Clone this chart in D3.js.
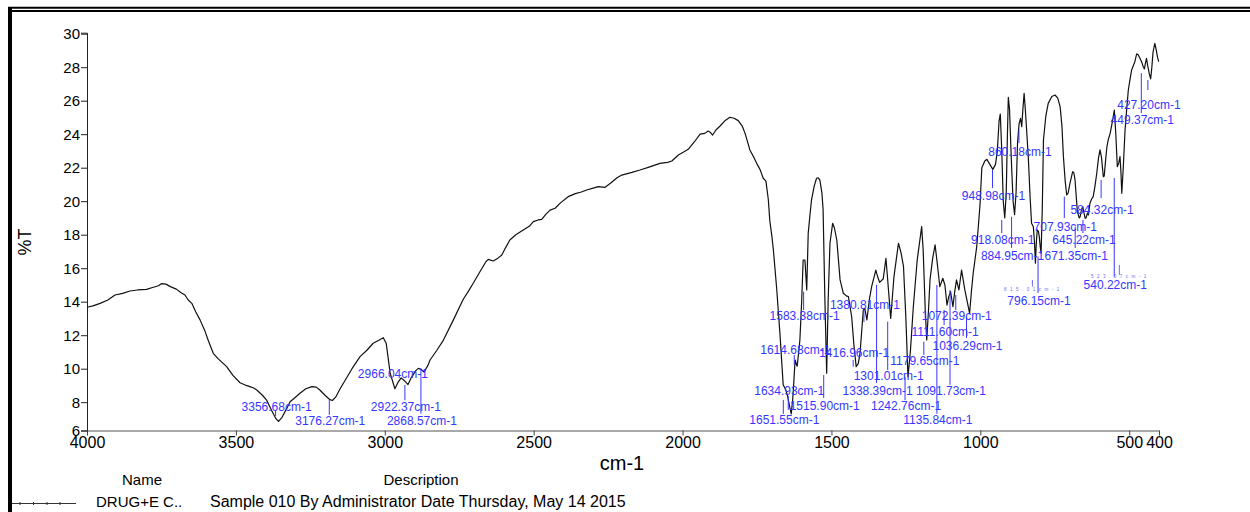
<!DOCTYPE html>
<html>
<head>
<meta charset="utf-8">
<script src="https://cdn.jsdelivr.net/npm/d3@7"></script>
<style>
  body { margin: 0; background: #fff; }
  svg { display: block; font-family: Arial, "Liberation Sans", sans-serif; }
  .peak { fill: #3636ff; font-size: 12px; }
  .faint { fill: #6a6aff; font-size: 4.5px; letter-spacing: 3.5px; }
</style>
</head>
<body>
<div id="dataviz"></div>
<script>
// spectrum: [wavenumber cm-1, %T]
var spectrum = [
  [4000,13.67],[3980,13.75],[3956,13.9],[3930,14.1],[3906,14.4],[3880,14.5],[3856,14.64],[3830,14.7],
  [3800,14.74],[3780,14.85],[3760,14.95],[3749,15.08],[3735,15.05],[3720,14.9],[3700,14.75],[3685,14.55],
  [3671,14.4],[3660,14.1],[3648,13.9],[3635,13.4],[3620,12.9],[3605,12.3],[3593,11.7],[3576,10.92],
  [3560,10.6],[3531,10.12],[3510,9.6],[3486,9.16],[3465,9.0],[3453,8.93],[3440,8.85],[3430,8.73],
  [3410,8.4],[3397,8.13],[3380,7.5],[3365,7.0],[3357,6.85],[3345,7.1],[3330,7.6],[3318,8.03],
  [3300,8.3],[3285,8.53],[3265,8.8],[3245,8.93],[3230,8.9],[3218,8.73],[3200,8.4],[3184,8.15],
  [3176,8.1],[3165,8.3],[3150,8.8],[3139,9.13],[3110,10.0],[3083,10.72],[3060,11.1],[3039,11.52],
  [3020,11.7],[3005,11.85],[2995,11.5],[2982,9.73],[2966,8.8],[2955,9.2],[2945,9.45],[2935,9.3],
  [2922,9.05],[2910,9.5],[2895,9.9],[2887,10.02],[2878,9.95],[2868,9.8],[2855,10.2],[2848,10.52],
  [2825,11.1],[2803,11.71],[2770,12.9],[2736,14.16],[2720,14.6],[2703,15.1],[2680,15.8],[2660,16.4],
  [2652,16.53],[2636,16.43],[2620,16.6],[2607,16.79],[2595,17.2],[2580,17.68],[2560,18.0],[2535,18.28],
  [2515,18.5],[2501,18.78],[2485,18.88],[2473,18.92],[2460,19.2],[2445,19.47],[2428,19.58],[2410,19.9],
  [2384,20.27],[2360,20.45],[2340,20.55],[2322,20.67],[2300,20.78],[2283,20.87],[2260,20.83],[2240,21.1],
  [2220,21.4],[2204,21.56],[2170,21.72],[2143,21.86],[2110,22.05],[2076,22.26],[2050,22.32],[2036,22.4],
  [2014,22.76],[1995,22.95],[1981,23.1],[1960,23.55],[1941,24.01],[1925,24.05],[1914,24.19],[1906,24.1],
  [1899,23.95],[1888,24.25],[1874,24.49],[1858,24.8],[1841,25.01],[1827,24.95],[1813,24.81],[1800,24.5],
  [1790,24.05],[1774,23.06],[1760,22.6],[1751,22.26],[1740,21.9],[1729,21.37],[1720,21.2],[1712,20.1],
  [1707,18.84],[1700,17.9],[1695,17.09],[1684,14.8],[1673,12.11],[1662,9.03],[1656,8.83],[1651,8.6],
  [1647,8.33],[1640,7.7],[1635,7.3],[1630,8.2],[1628,8.73],[1622,10.52],[1617,10.22],[1615,10.15],
  [1610,11.0],[1606,11.71],[1600,14.0],[1595,16.49],[1589,16.49],[1583,14.7],[1578,18.08],[1572,19.2],
  [1567,20.07],[1558,20.9],[1550,21.37],[1545,21.4],[1539,21.27],[1532,20.5],[1528,19.47],[1522,14.1],
  [1516,9.73],[1511,14.1],[1505,17.49],[1496,18.68],[1490,18.4],[1482,17.68],[1471,15.3],[1460,14.5],
  [1450,14.35],[1443,14.3],[1432,13.1],[1425,11.5],[1417,10.12],[1410,10.3],[1404,10.92],[1393,13.5],
  [1388,13.6],[1381,12.91],[1372,14.2],[1365,14.9],[1351,15.89],[1345,15.5],[1338,15.15],[1326,15.37],
  [1317,16.59],[1312,15.5],[1301,13.0],[1290,15.5],[1275,17.49],[1266,16.9],[1258,16.09],[1250,13.0],
  [1243,9.52],[1235,11.0],[1225,13.7],[1212,16.49],[1197,18.48],[1192,17.09],[1185,13.5],[1180,11.71],
  [1174,13.5],[1169,15.3],[1160,16.6],[1152,17.39],[1146,16.5],[1141,15.7],[1136,14.9],[1130,15.2],
  [1126,15.4],[1119,15.0],[1112,13.8],[1106,14.3],[1100,14.6],[1092,13.7],[1086,14.6],[1080,15.3],
  [1072,14.7],[1063,15.89],[1052,14.7],[1045,14.1],[1036,13.3],[1030,14.6],[1024,15.7],[1012,17.3],
  [1001,19.8],[995,22.0],[985,22.4],[978,22.5],[968,22.2],[958,21.9],[949,22.2],[943,23.0],
  [937,24.8],[933,25.2],[928,23.0],[923,20.0],[918,19.0],[913,20.5],[909,24.0],[906,26.2],
  [902,25.5],[896,22.5],[890,20.0],[885,19.2],[880,20.5],[875,23.5],[870,24.6],[865,24.95],
  [861,24.45],[857,25.5],[853,26.44],[849,25.5],[843,23.8],[839,22.66],[833,20.3],[828,18.68],
  [822,18.48],[818,17.5],[815,16.3],[812,17.5],[809,18.28],[805,18.2],[802,17.88],[799,17.3],
  [796,16.89],[792,19.5],[788,23.65],[780,25.1],[772,25.84],[760,26.25],[749,26.34],[740,26.15],
  [732,25.64],[726,24.5],[721,22.66],[715,21.2],[710,20.37],[705,20.5],[699,21.07],[690,21.76],
  [686,21.7],[682,21.27],[678,20.3],[674,19.37],[668,19.0],[665,19.07],[660,19.5],[656,19.67],
  [652,19.3],[648,18.98],[645,19.0],[640,19.3],[637,19.18],[632,19.87],[627,20.1],[621,20.27],
  [615,20.9],[609,21.67],[603,22.6],[598,23.06],[593,22.6],[587,21.46],[584,21.5],[580,22.3],
  [575,23.25],[570,23.7],[564,24.05],[557,24.7],[550,25.44],[545,24.0],[540,22.06],[535,22.3],
  [531,22.66],[528,21.8],[525,20.47],[520,22.0],[514,24.25],[508,25.6],[503,26.64],[497,27.3],
  [492,27.83],[486,28.1],[481,28.33],[475,28.79],[470,28.75],[464,28.53],[458,28.3],[453,28.03],
  [449,27.9],[446,28.2],[442,28.53],[438,28.1],[433,27.64],[428,27.3],[424,28.0],[420,28.9],
  [414,29.43],[410,29.1],[405,28.6],[401,28.33]
];

// peak labels: wavenumber, label centre (%T), marker line top / bottom (%T)
var peakWn = [3356.68, 3176.27, 2966.04, 2922.37, 2868.57, 1651.55, 1634.93, 1614.68, 1583.38, 1515.90,
  1416.96, 1380.81, 1338.39, 1301.01, 1242.76, 1179.65, 1135.84, 1111.60, 1091.73, 1072.39,
  1036.29, 948.98, 918.08, 884.95, 860.18, 815.01, 796.15, 707.93, 671.35, 645.22,
  584.32, 540.22, 523.07, 449.37, 427.20];
var labelT = [7.73, 6.90, 9.68, 7.73, 6.90, 6.94, 8.67, 11.16, 13.15, 7.77,
  10.96, 13.84, 8.67, 9.56, 7.77, 10.46, 6.94, 12.21, 8.67, 13.15,
  11.36, 20.31, 17.68, 16.73, 22.96, 14.74, 14.06, 18.48, 16.73, 17.68,
  19.47, 15.0, 15.49, 24.89, 25.74];
var markTop = [7.53, 8.13, null, 9.03, 10.04, 8.13, 8.37, 10.82, 14.60, 9.62,
  10.52, 13.50, 15.00, 12.81, 9.52, 11.61, 15.00, 13.50, 14.70, 14.40,
  13.10, 21.86, 18.88, 19.07, 24.25, 15.30, 16.69, 20.27, 18.48, 18.88,
  21.27, 21.39, 16.19, 27.65, 27.24];
var markBottom = [7.18, 7.24, null, 8.13, 7.31, 7.30, 7.54, 10.22, 13.50, 8.25,
  10.12, 12.79, 9.15, 9.92, 8.13, 10.82, 7.31, 12.61, 9.03, 13.50,
  11.83, 20.79, 18.10, 17.21, 23.47, 14.90, 14.52, 19.00, 17.21, 18.10,
  20.19, 15.49, 15.60, 25.27, 26.64];
var faintPeaks = [815.01, 523.07];

var xTicks = [4000, 3500, 3000, 2500, 2000, 1500, 1000, 500, 400];
var yTicks = [8, 10, 12, 14, 16, 18, 20, 22, 24, 26, 28, 30];
var yBottomLabel = "6";
var xMin = 4000, xMax = 400, yMin = 6.31, yMax = 30.06;

var legendHeader = ["Name", "Description"];
var legendName = "DRUG+E C..";
var legendDesc = "Sample 010 By Administrator Date Thursday, May 14 2015";

var W = 1250, H = 512;
var plot = { left: 87, right: 1159, top: 32.7, bottom: 430.5 };

var svg = d3.select("#dataviz").append("svg")
    .attr("width", W)
    .attr("height", H)
    .attr("viewBox", `0 0 ${W} ${H}`);

svg.append("rect").attr("width", W).attr("height", H).attr("fill", "#fff");

// frame
svg.append("rect").attr("x", 8).attr("y", 7).attr("width", 4).attr("height", H - 7).attr("fill", "#000");
svg.append("line").attr("x1", 8).attr("x2", W).attr("y1", 7.7).attr("y2", 7.7)
    .attr("stroke", "#000").attr("stroke-width", 2);
svg.append("line").attr("x1", 11).attr("x2", W).attr("y1", 11).attr("y2", 11)
    .attr("stroke", "#000").attr("stroke-width", 2);

var x = d3.scaleLinear().domain([xMin, xMax]).range([plot.left, plot.right]);
var y = d3.scaleLinear().domain([yMin, yMax]).range([plot.bottom, plot.top]);

// axes
var gx = svg.append("g")
    .attr("transform", "translate(0," + plot.bottom + ")")
    .call(d3.axisBottom(x).tickValues(xTicks).tickFormat(d3.format("d")).tickSize(5).tickSizeOuter(0).tickPadding(1));
gx.selectAll("text").style("font-size", "16px").attr("fill", "#000");
gx.select(".domain").attr("stroke", "#555");
gx.selectAll(".tick line").attr("stroke", "#444");

var gy = svg.append("g")
    .attr("transform", "translate(" + plot.left + ",0)")
    .call(d3.axisLeft(y).tickValues([yMin].concat(yTicks))
        .tickFormat(d => d === yMin ? yBottomLabel : d)
        .tickSize(6).tickSizeOuter(6).tickPadding(1));
gy.selectAll("text").style("font-size", "15px").attr("fill", "#000");
gy.select(".domain").attr("stroke", "#222");
gy.selectAll(".tick line").attr("stroke", "#222");

svg.append("text")
    .attr("x", 622).attr("y", 470)
    .attr("text-anchor", "middle")
    .style("font-size", "20px")
    .text("cm-1");

svg.append("text")
    .attr("transform", "translate(25,242) rotate(-90)")
    .attr("text-anchor", "middle")
    .attr("dominant-baseline", "central")
    .style("font-size", "18px")
    .text("%T");

// spectrum trace
var line = d3.line().x(d => x(d[0])).y(d => y(d[1]));
svg.append("path")
    .datum(spectrum)
    .attr("fill", "none")
    .attr("stroke", "#111")
    .attr("stroke-width", 1.2)
    .attr("stroke-linejoin", "round")
    .attr("d", line);

// peak annotations
var peaks = peakWn.map((w, i) => ({
    wn: w, t: labelT[i], top: markTop[i], bottom: markBottom[i],
    faint: faintPeaks.indexOf(w) >= 0
}));

svg.append("g").selectAll("line")
    .data(peaks.filter(d => d.top !== null)).enter().append("line")
    .attr("x1", d => x(d.wn) - 3).attr("x2", d => x(d.wn) - 3)
    .attr("y1", d => y(d.top)).attr("y2", d => y(d.bottom))
    .attr("stroke", d => d.faint ? "#6a6aff" : "#3636ff")
    .attr("stroke-width", 1);

svg.append("g").selectAll("text")
    .data(peaks).enter().append("text")
    .attr("class", d => d.faint ? "faint" : "peak")
    .attr("x", d => x(d.wn) - 2)
    .attr("y", d => y(d.t))
    .attr("dy", d => d.faint ? "0.35em" : "0.36em")
    .attr("text-anchor", "middle")
    .text(d => d.wn.toFixed(2) + "cm-1");

// legend block
svg.append("text").attr("x", 142).attr("y", 485).attr("text-anchor", "middle")
    .style("font-size", "15px").text(legendHeader[0]);
svg.append("text").attr("x", 421).attr("y", 485).attr("text-anchor", "middle")
    .style("font-size", "15px").text(legendHeader[1]);

svg.append("line").attr("x1", 12).attr("x2", 76).attr("y1", 503.5).attr("y2", 503.5)
    .attr("stroke", "#333").attr("stroke-width", 1);
[20, 33.5, 47, 60].forEach(function(px) {
    svg.append("line").attr("x1", px).attr("x2", px).attr("y1", 502).attr("y2", 505)
        .attr("stroke", "#333").attr("stroke-width", 1);
});
svg.append("text").attr("x", 96).attr("y", 507)
    .style("font-size", "15px").text(legendName);
svg.append("text").attr("x", 210).attr("y", 507)
    .style("font-size", "16px").text(legendDesc);
</script>
</body>
</html>
